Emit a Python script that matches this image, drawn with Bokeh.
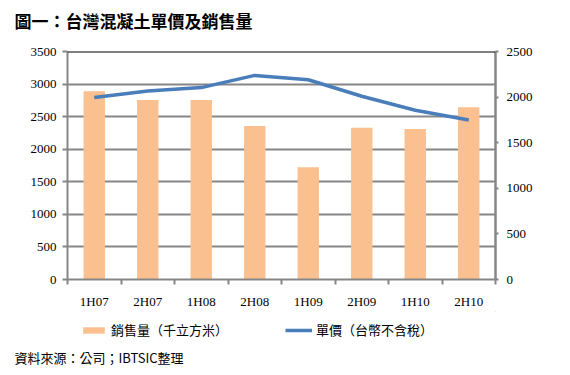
from bokeh.plotting import figure
from bokeh.layouts import column
from bokeh.models import (Range1d, LinearAxis, FixedTicker, Title, Legend, LegendItem, Span)
from bokeh.embed import file_html
from bokeh.resources import INLINE

categories = ["1H07", "2H07", "1H08", "2H08", "1H09", "2H09", "1H10", "2H10"]
sales = [2890, 2755, 2755, 2358, 1722, 2328, 2312, 2644]
price = [1995, 2067, 2104, 2238, 2190, 2009, 1856, 1748]
left_ticks = [0, 500, 1000, 1500, 2000, 2500, 3000, 3500]
right_ticks = [0, 500, 1000, 1500, 2000, 2500]

title_text = "圖一：台灣混凝土單價及銷售量"
legend_sales = "銷售量（千立方米）"
legend_price = "單價（台幣不含稅）"
source_text = "資料來源：公司；IBTSIC整理"

xs = [i + 0.5 for i in range(len(categories))]
GRAY = "#868686"
SERIF = "Liberation Serif"
CJK = "Noto Sans CJK TC"
BAR_COLOR = "#FAC090"
LINE_COLOR = "#4A7EBB"


def blank_figure(height):
    fig = figure(width=570, height=height, x_range=Range1d(-2, -1), y_range=Range1d(-2, -1),
                 output_backend="svg", toolbar_location=None,
                 x_axis_location=None, y_axis_location=None,
                 min_border_left=0, min_border_right=0,
                 min_border_top=0, min_border_bottom=0)
    fig.outline_line_color = None
    fig.grid.grid_line_color = None
    fig.background_fill_color = "white"
    fig.border_fill_color = "white"
    return fig


# header figure: chart title
h = blank_figure(32)
h.add_layout(Title(text=title_text, align="left", offset=-53, text_font=CJK,
                   text_font_size="17px", text_font_style="bold",
                   text_color="black", standoff=0), "below")

p = figure(width=570, height=279, x_range=Range1d(0, len(categories)),
           y_range=Range1d(0, 3500), output_backend="svg", toolbar_location=None,
           min_border_left=67, min_border_right=75, min_border_top=19,
           min_border_bottom=30)
p.outline_line_color = None
p.background_fill_color = "white"
p.border_fill_color = "white"
p.extra_y_ranges = {"price": Range1d(0, 2500)}

bars = p.vbar(x=xs, top=sales, width=0.4, fill_color=BAR_COLOR, line_color=None)
line = p.line(x=xs, y=price, y_range_name="price", line_color=LINE_COLOR, line_width=3.5)

p.add_layout(Span(location=3500, dimension="width", line_color="black", line_width=2))

# axes
p.xaxis.ticker = FixedTicker(ticks=xs, minor_ticks=list(range(len(categories) + 1)))
p.xaxis.major_label_overrides = {x: c for x, c in zip(xs, categories)}
p.xaxis.major_tick_line_color = None
p.xaxis.minor_tick_line_color = GRAY
p.xaxis.minor_tick_line_width = 2
p.xaxis.minor_tick_out = 5
p.xaxis.minor_tick_in = 0
p.xaxis.axis_line_color = GRAY
p.xaxis.axis_line_width = 2
p.xaxis.major_label_standoff = 8

p.yaxis.ticker = FixedTicker(ticks=left_ticks)
p.yaxis.axis_line_color = GRAY
p.yaxis.axis_line_width = 2
p.yaxis.major_tick_line_color = GRAY
p.yaxis.major_tick_line_width = 2
p.yaxis.major_tick_out = 5
p.yaxis.major_tick_in = 0
p.yaxis.minor_tick_line_color = None
p.yaxis.major_label_standoff = 6

ra = LinearAxis(y_range_name="price", ticker=FixedTicker(ticks=right_ticks))
ra.axis_line_color = GRAY
ra.axis_line_width = 2.5
ra.major_tick_line_color = GRAY
ra.major_tick_line_width = 2
ra.major_tick_out = 3
ra.major_tick_in = 0
ra.minor_tick_line_color = None
ra.major_label_standoff = 8
p.add_layout(ra, "right")

for ax in [p.xaxis[0], p.yaxis[0], ra]:
    ax.major_label_text_font = SERIF
    ax.major_label_text_font_size = "13px"
    ax.major_label_text_color = "black"

p.xgrid.grid_line_color = None
p.ygrid.ticker = FixedTicker(ticks=left_ticks)
p.ygrid.grid_line_color = GRAY
p.ygrid.grid_line_width = 2

# footer figure: legend + source note (its ranges keep the sample glyphs out of view)
f = blank_figure(55)
lb = f.vbar(x=xs, top=sales, width=0.4, fill_color=BAR_COLOR, line_color=None)
ll = f.line(x=xs, y=price, line_color=LINE_COLOR, line_width=3.5)

legend = Legend(items=[LegendItem(label=legend_sales, renderers=[lb]),
                       LegendItem(label=legend_price, renderers=[ll])],
                orientation="horizontal", location=(13, 6),
                padding=0, margin=0, spacing=57, glyph_width=27, glyph_height=8,
                label_standoff=4, border_line_color=None, background_fill_alpha=0,
                label_text_font=CJK, label_text_font_size="13px",
                label_text_color="black")
f.add_layout(legend, "center")

f.add_layout(Title(text=source_text, align="left", offset=-53, text_font=CJK,
                   text_font_size="13px", text_font_style="normal",
                   text_color="black", standoff=0), "below")

open("out.html", "w").write(file_html(column(h, p, f, spacing=0), INLINE))
